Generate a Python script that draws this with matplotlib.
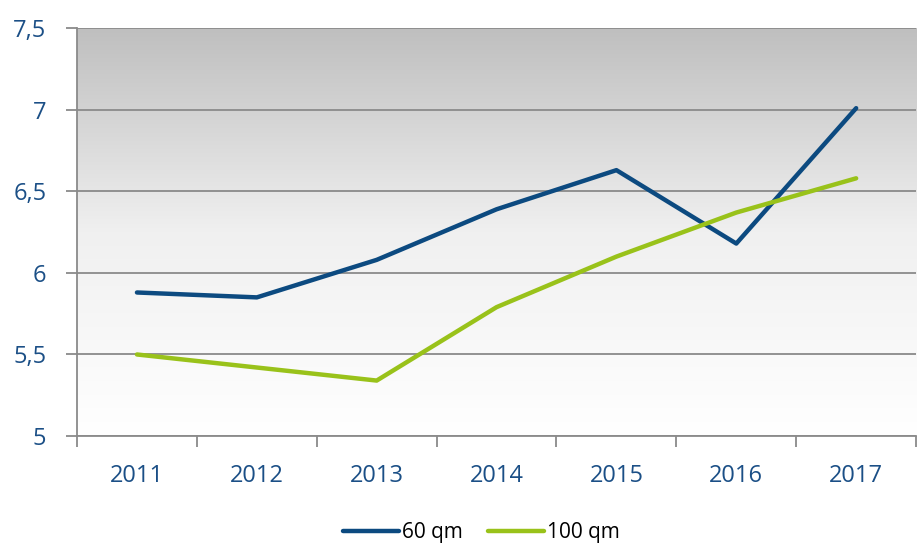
import matplotlib
matplotlib.use("Agg")
import matplotlib.pyplot as plt
import numpy as np

# chart data
years = ["2011", "2012", "2013", "2014", "2015", "2016", "2017"]
qm60 = [5.88, 5.85, 6.08, 6.39, 6.63, 6.18, 7.01]
qm100 = [5.50, 5.42, 5.34, 5.79, 6.10, 6.37, 6.58]
yticks = [5, 5.5, 6, 6.5, 7, 7.5]
ytick_labels = ["5", "5,5", "6", "6,5", "7", "7,5"]

blue = "#0c4a80"
green = "#99c21a"
text_blue = "#1b4f86"
grid_gray = "#8a8a8a"

plt.rcParams['font.family'] = ['Open Sans', 'DejaVu Sans']

fig = plt.figure(figsize=(9.17, 5.43), dpi=100)
ax = fig.add_axes([0.084, 0.197, 0.915, 0.751])

# vertical gradient background, gray on top to white at bottom
grad = np.linspace(0, 1, 256).reshape(-1, 1)
cmap = matplotlib.colors.LinearSegmentedColormap.from_list("bg", ["#ffffff", "#f0f0f0", "#bfbfbf"])
ax.imshow(grad, extent=[0, 1, 0, 1], transform=ax.transAxes, origin="lower",
          aspect="auto", cmap=cmap, zorder=0)

x = np.arange(len(years))
ax.plot(x, qm60, color=blue, lw=3.2, label="60 qm", zorder=3, solid_capstyle="round")
ax.plot(x, qm100, color=green, lw=3.2, label="100 qm", zorder=3, solid_capstyle="round")

ax.set_xlim(-0.5, len(years) - 0.5)
ax.set_ylim(5, 7.5)
ax.set_yticks(yticks)
ax.set_yticklabels(ytick_labels)
ax.set_xticks(x)
ax.set_xticklabels(years)
ax.set_xticks(np.arange(len(years) + 1) - 0.5, minor=True)

ax.yaxis.grid(True, color=grid_gray, lw=1.3, zorder=1)
ax.set_axisbelow(False)
for gl in ax.get_ygridlines():
    gl.set_zorder(1)

for s in ["top", "right"]:
    ax.spines[s].set_visible(False)
for s in ["left", "bottom"]:
    ax.spines[s].set_color(grid_gray)
    ax.spines[s].set_linewidth(1.3)

ax.tick_params(axis="y", colors=grid_gray, labelcolor=text_blue, labelsize=17,
               length=8, width=1.3, pad=14)
ax.tick_params(axis="x", which="major", length=0, labelcolor=text_blue, labelsize=17, pad=20)
ax.tick_params(axis="x", which="minor", length=8, width=1.3, colors=grid_gray)

ax.legend(loc="lower center", bbox_to_anchor=(0.525, -0.035), bbox_transform=fig.transFigure,
          ncol=2, frameon=False, fontsize=15, handlelength=2.7, handletextpad=0.15,
          columnspacing=1.2)

fig.savefig("out.png", dpi=100)
